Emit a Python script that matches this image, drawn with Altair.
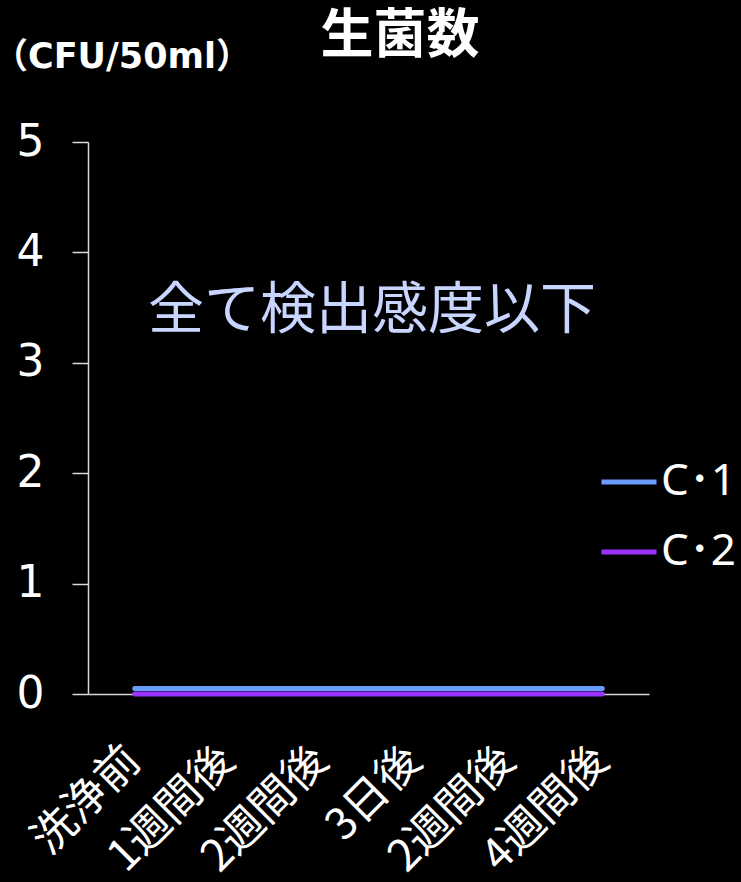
import altair as alt
import pandas as pd

# Sampling points along the x axis (note: "2週間後" appears twice)
timepoints = ["洗浄前", "1週間後", "2週間後", "3日後", "2週間後", "4週間後"]
series_names = ["C･1", "C･2"]
c1_counts = [0.05, 0.05, 0.05, 0.05, 0.05, 0.05]
c2_counts = [0, 0, 0, 0, 0, 0]
series_colors = ["#6b9bff", "#9933ff"]
y_ticks = [0, 1, 2, 3, 4, 5]

chart_title = "生菌数"
unit_label = "（CFU/50ml）"
note_text = "全て検出感度以下"

rows = []
for name, vals in zip(series_names, [c1_counts, c2_counts]):
    for i, v in enumerate(vals):
        rows.append({"idx": i, "series": name, "count": v})
df = pd.DataFrame(rows)

# Positional index keeps the two identical labels as separate categories
label_expr = "[" + ",".join(f"'{s}'" for s in timepoints) + "][datum.value]"

W, H = 561, 552
LEFT, TOP = 88, 142

jp = "Noto Sans CJK JP"
latin = "DejaVu Sans, Noto Sans CJK JP"

lines = alt.Chart(df).mark_line(strokeWidth=5, strokeCap="round").encode(
    x=alt.X(
        "idx:O",
        title=None,
        axis=alt.Axis(
            labelExpr=label_expr,
            labelAngle=-45,
            labelAlign="right",
            labelBaseline="top",
            labelFont=jp,
            labelFontSize=44,
            labelColor="white",
            labelPadding=44,
            labelOffset=-17,
            ticks=False,
            domainColor="#d9d9d9",
            domainWidth=1.5,
        ),
    ),
    y=alt.Y(
        "count:Q",
        title=None,
        scale=alt.Scale(domain=[0, 5]),
        axis=alt.Axis(
            values=y_ticks,
            format="d",
            grid=False,
            labelFont="DejaVu Sans",
            labelFontSize=44,
            labelColor="white",
            labelPadding=28,
            tickSize=16,
            tickColor="#d9d9d9",
            tickWidth=1.5,
            domainColor="#d9d9d9",
            domainWidth=1.5,
        ),
    ),
    color=alt.Color(
        "series:N",
        scale=alt.Scale(domain=series_names, range=series_colors),
        legend=alt.Legend(
            title=None,
            orient="none",
            legendX=511,
            legendY=310,
            symbolType="stroke",
            symbolSize=3025,
            symbolStrokeWidth=5,
            labelFont="Noto Sans, Noto Sans CJK JP",
            labelFontSize=44,
            labelColor="white",
            labelOffset=2,
            rowPadding=18,
            padding=0,
        ),
    ),
    order=alt.Order("series:N"),
)

note = alt.Chart(pd.DataFrame({"t": [note_text]})).mark_text(
    font=jp, fontSize=56, color="#c8d6ff", align="center", baseline="middle"
).encode(text="t:N", x=alt.value(284), y=alt.datum(3.47))

title = alt.Chart(pd.DataFrame({"t": [chart_title]})).mark_text(
    font=jp, fontSize=53, fontWeight="bold", color="white", align="center", baseline="middle"
).encode(text="t:N", x=alt.value(312), y=alt.value(-105))

unit = alt.Chart(pd.DataFrame({"t": [unit_label]})).mark_text(
    font=latin, fontSize=35, fontWeight="bold", color="white", align="left", baseline="middle"
).encode(text="t:N", x=alt.value(-95), y=alt.value(-85))

chart = (
    alt.layer(lines, note, title, unit)
    .properties(
        width=W,
        height=H,
        autosize=alt.AutoSizeParams(type="none"),
        padding={"left": LEFT, "top": TOP, "right": 741 - LEFT - W, "bottom": 882 - TOP - H},
        background="black",
    )
    .configure_view(stroke=None)
)

chart.save("out.html", embed_options={"renderer": "svg", "actions": False})
